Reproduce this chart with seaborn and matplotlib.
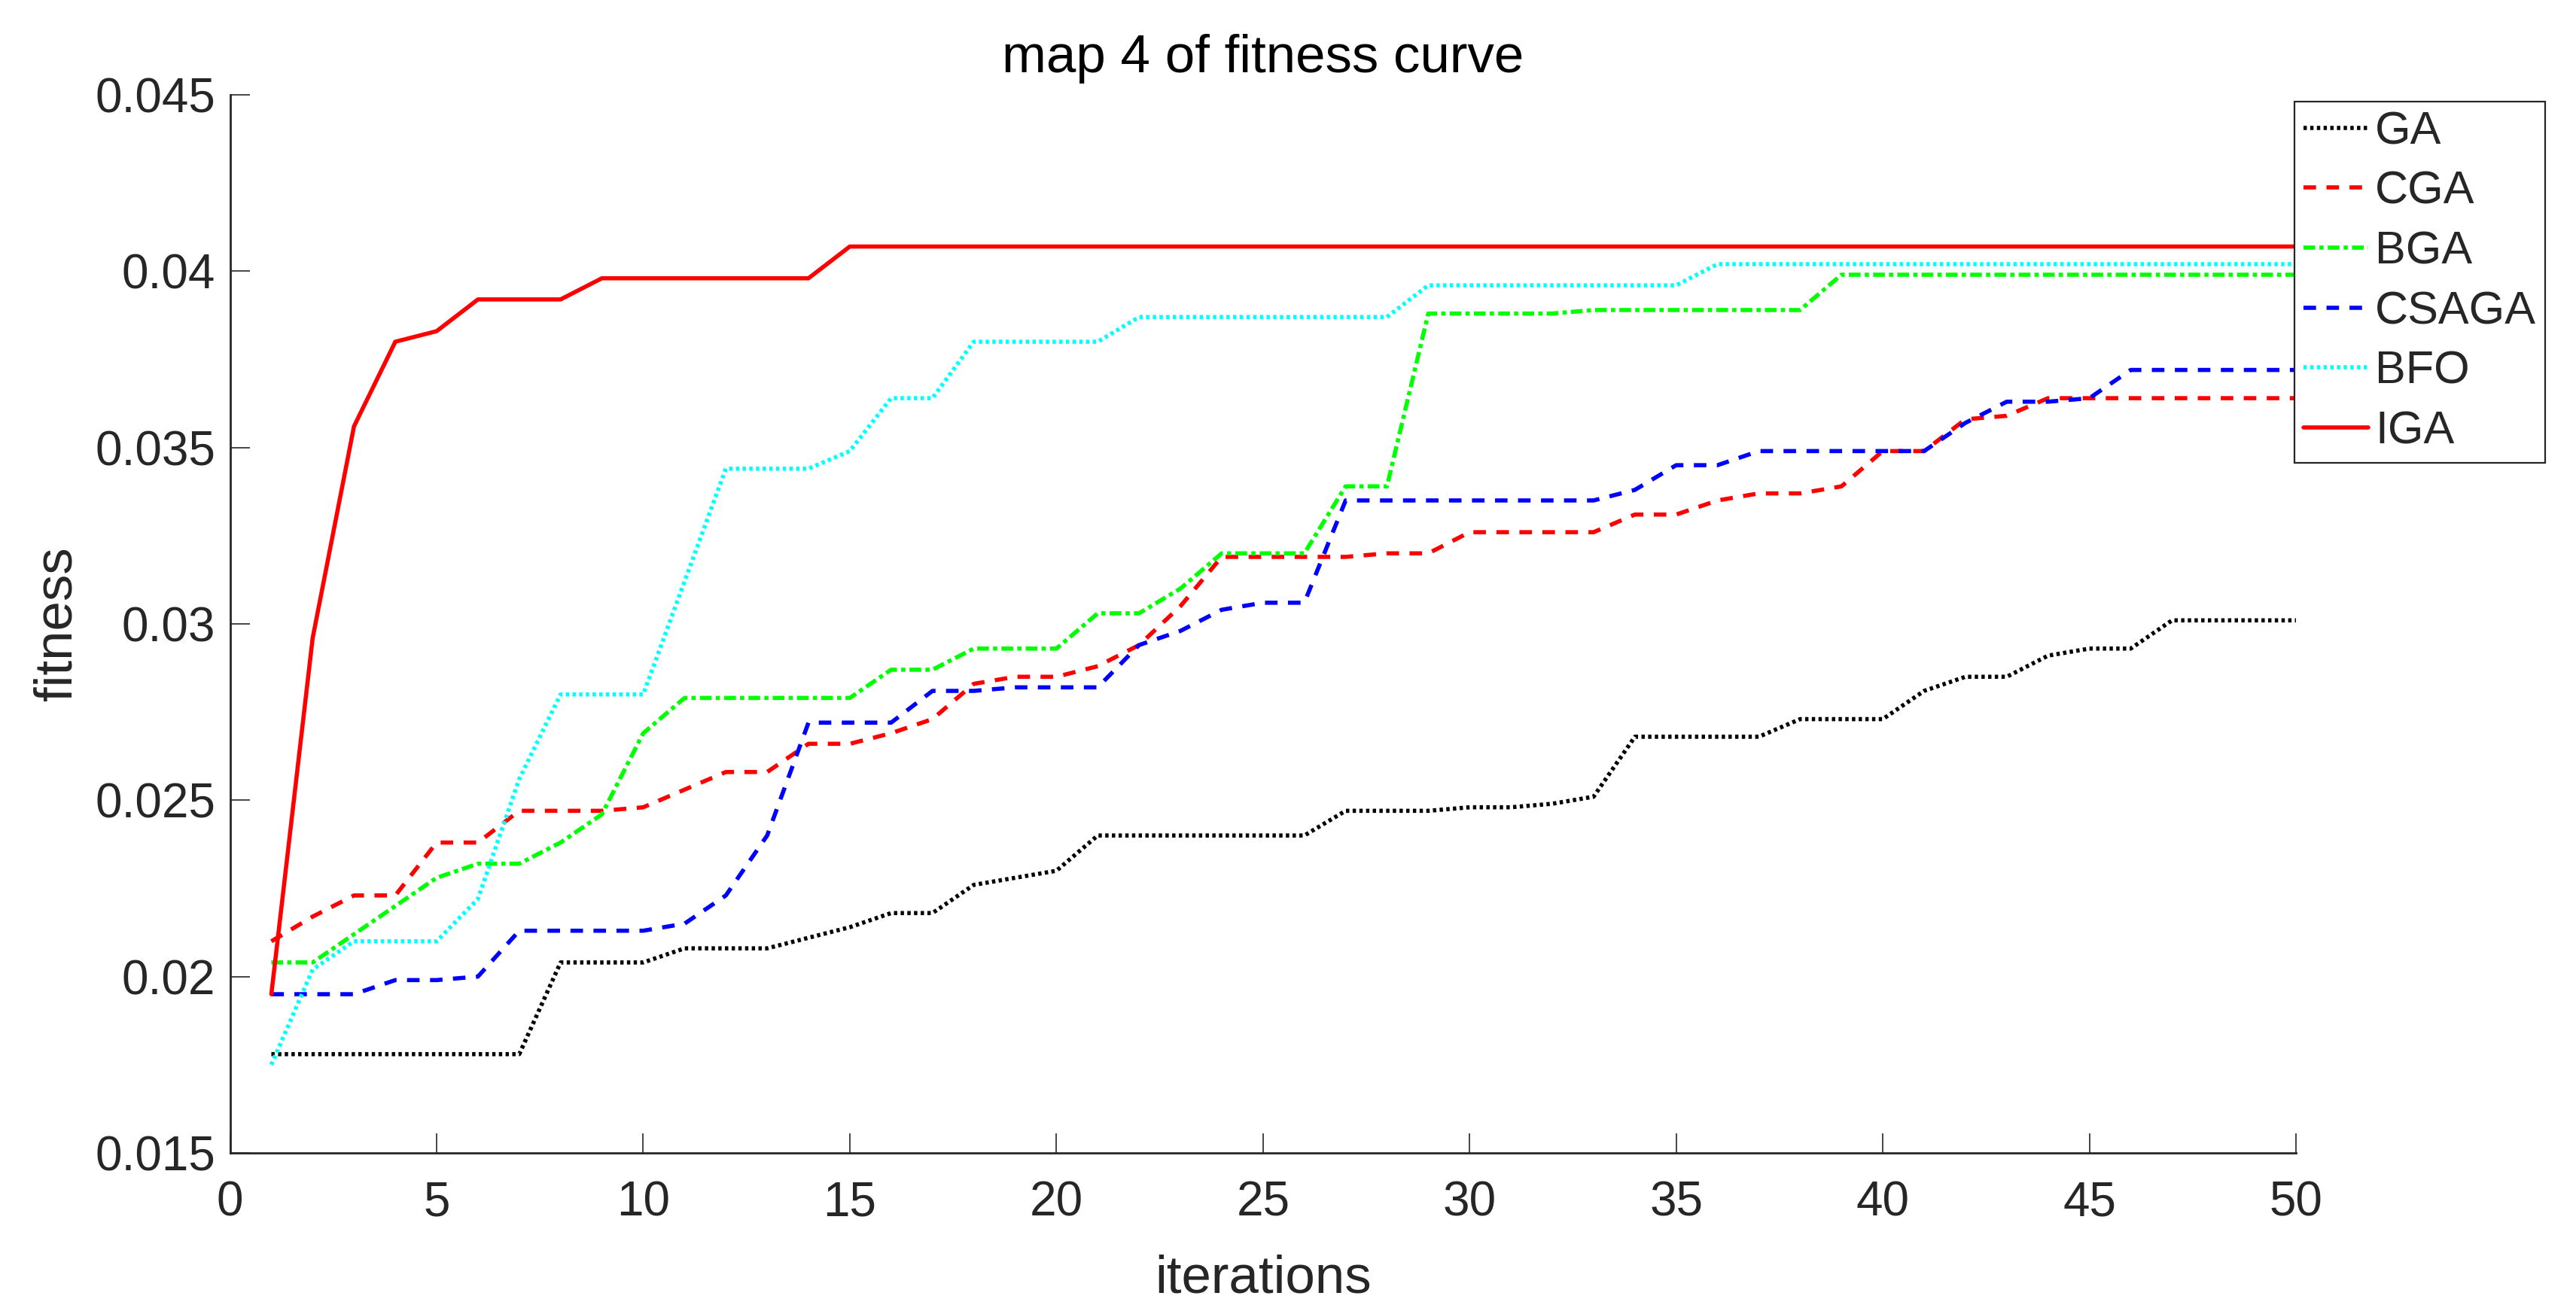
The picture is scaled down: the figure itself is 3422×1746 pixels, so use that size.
import pandas as pd
import numpy as np
import matplotlib
matplotlib.use('Agg')
import matplotlib.pyplot as plt
from matplotlib.lines import Line2D
from matplotlib.ticker import FuncFormatter
import seaborn as sns

# данные
iterations = list(range(1, 51))

ga = [0.0178, 0.0178, 0.0178, 0.0178, 0.0178, 0.0178, 0.0178, 0.0204, 0.0204, 0.0204,
      0.0208, 0.0208, 0.0208, 0.0211, 0.0214, 0.0218, 0.0218, 0.0226, 0.0228, 0.0230,
      0.0240, 0.0240, 0.0240, 0.0240, 0.0240, 0.0240, 0.0247, 0.0247, 0.0247, 0.0248,
      0.0248, 0.0249, 0.0251, 0.0268, 0.0268, 0.0268, 0.0268, 0.0273, 0.0273, 0.0273,
      0.0281, 0.0285, 0.0285, 0.0291, 0.0293, 0.0293, 0.0301, 0.0301, 0.0301, 0.0301]

cga = [0.0210, 0.0217, 0.0223, 0.0223, 0.0238, 0.0238, 0.0247, 0.0247, 0.0247, 0.0248,
       0.0253, 0.0258, 0.0258, 0.0266, 0.0266, 0.0269, 0.0273, 0.0283, 0.0285, 0.0285,
       0.0288, 0.0294, 0.0305, 0.0319, 0.0319, 0.0319, 0.0319, 0.0320, 0.0320, 0.0326,
       0.0326, 0.0326, 0.0326, 0.0331, 0.0331, 0.0335, 0.0337, 0.0337, 0.0339, 0.0349,
       0.0349, 0.0358, 0.0359, 0.0364, 0.0364, 0.0364, 0.0364, 0.0364, 0.0364, 0.0364]

bga = [0.0204, 0.0204, 0.0212, 0.0220, 0.0228, 0.0232, 0.0232, 0.0238, 0.0246, 0.0269,
       0.0279, 0.0279, 0.0279, 0.0279, 0.0279, 0.0287, 0.0287, 0.0293, 0.0293, 0.0293,
       0.0303, 0.0303, 0.0310, 0.0320, 0.0320, 0.0320, 0.0339, 0.0339, 0.0388, 0.0388,
       0.0388, 0.0388, 0.0389, 0.0389, 0.0389, 0.0389, 0.0389, 0.0389, 0.0399, 0.0399,
       0.0399, 0.0399, 0.0399, 0.0399, 0.0399, 0.0399, 0.0399, 0.0399, 0.0399, 0.0399]

csaga = [0.0195, 0.0195, 0.0195, 0.0199, 0.0199, 0.0200, 0.0213, 0.0213, 0.0213, 0.0213,
         0.0215, 0.0223, 0.0240, 0.0272, 0.0272, 0.0272, 0.0281, 0.0281, 0.0282, 0.0282,
         0.0282, 0.0294, 0.0298, 0.0304, 0.0306, 0.0306, 0.0335, 0.0335, 0.0335, 0.0335,
         0.0335, 0.0335, 0.0335, 0.0338, 0.0345, 0.0345, 0.0349, 0.0349, 0.0349, 0.0349,
         0.0349, 0.0357, 0.0363, 0.0363, 0.0364, 0.0372, 0.0372, 0.0372, 0.0372, 0.0372]

bfo = [0.0175, 0.0202, 0.0210, 0.0210, 0.0210, 0.0222, 0.0256, 0.0280, 0.0280, 0.0280,
       0.0312, 0.0344, 0.0344, 0.0344, 0.0349, 0.0364, 0.0364, 0.0380, 0.0380, 0.0380,
       0.0380, 0.0387, 0.0387, 0.0387, 0.0387, 0.0387, 0.0387, 0.0387, 0.0396, 0.0396,
       0.0396, 0.0396, 0.0396, 0.0396, 0.0396, 0.0402, 0.0402, 0.0402, 0.0402, 0.0402,
       0.0402, 0.0402, 0.0402, 0.0402, 0.0402, 0.0402, 0.0402, 0.0402, 0.0402, 0.0402]

iga = [0.0195, 0.0296, 0.0356, 0.0380, 0.0383, 0.0392, 0.0392, 0.0392, 0.0398, 0.0398,
       0.0398, 0.0398, 0.0398, 0.0398, 0.0407, 0.0407, 0.0407, 0.0407, 0.0407, 0.0407,
       0.0407, 0.0407, 0.0407, 0.0407, 0.0407, 0.0407, 0.0407, 0.0407, 0.0407, 0.0407,
       0.0407, 0.0407, 0.0407, 0.0407, 0.0407, 0.0407, 0.0407, 0.0407, 0.0407, 0.0407,
       0.0407, 0.0407, 0.0407, 0.0407, 0.0407, 0.0407, 0.0407, 0.0407, 0.0407, 0.0407]

names = ['GA', 'CGA', 'BGA', 'CSAGA', 'BFO', 'IGA']
series = [ga, cga, bga, csaga, bfo, iga]

colors = {'GA': '#000000', 'CGA': '#ff0000', 'BGA': '#00ff00',
          'CSAGA': '#0000ff', 'BFO': '#00ffff', 'IGA': '#ff0000'}
# matlab-like line styles
dashes = {'GA': (0.8, 0.8), 'CGA': (3.0, 2.5), 'BGA': (2.8, 1.0, 1.0, 1.0),
          'CSAGA': (3.0, 2.5), 'BFO': (0.8, 0.8), 'IGA': ''}
lw = 2.0

df = pd.concat([pd.DataFrame({'iteration': iterations, 'fitness': s, 'algorithm': n})
                for n, s in zip(names, series)], ignore_index=True)

sns.set_theme(style='white')
plt.rcParams['font.family'] = ['Liberation Sans', 'DejaVu Sans']

fig = plt.figure(figsize=(17.11, 8.73), dpi=200)
ax = fig.add_axes([0.0893, 0.1226, 0.802, 0.8052])

sns.lineplot(data=df, x='iteration', y='fitness', hue='algorithm', style='algorithm',
             hue_order=names, style_order=names, palette=colors, dashes=dashes,
             linewidth=lw, legend=False, ax=ax)

ax.set_xlim(0, 50)
ax.set_ylim(0.015, 0.045)
ax.set_xticks(np.arange(0, 51, 5))
ax.set_yticks(np.arange(0.015, 0.0451, 0.005))
ax.yaxis.set_major_formatter(FuncFormatter(lambda v, p: f'{v:g}'))

for side in ['top', 'right']:
    ax.spines[side].set_visible(False)
for side in ['left', 'bottom']:
    ax.spines[side].set_color('#262626')
    ax.spines[side].set_linewidth(1.0)

ax.tick_params(bottom=True, left=True, direction='in', length=9.5, width=0.6,
               color='#262626', labelcolor='#262626', labelsize=23)
ax.tick_params(axis='x', pad=13)
ax.tick_params(axis='y', pad=7)

ax.set_title('map 4 of fitness curve', fontsize=25.5, color='#000000', pad=11)
ax.set_xlabel('iterations', fontsize=25.5, color='#262626', labelpad=14)
ax.set_ylabel('fitness', fontsize=25.5, color='#262626', labelpad=6)

handles = []
for n in names:
    h = Line2D([0], [0], color=colors[n], linewidth=lw)
    if dashes[n]:
        h.set_dashes(dashes[n])
    handles.append(h)

leg = fig.legend(handles, names, loc='upper left',
                 bbox_to_anchor=(3048 / 3422, 1 - 135 / 1746), bbox_transform=fig.transFigure,
                 borderaxespad=0, frameon=True, fancybox=False, framealpha=1,
                 edgecolor='#262626', fontsize=22, handlelength=1.4, handletextpad=0.15,
                 labelspacing=0.37, borderpad=0.2)
leg.get_frame().set_linewidth(0.8)

fig.savefig('out.png', dpi=200, facecolor='white')
